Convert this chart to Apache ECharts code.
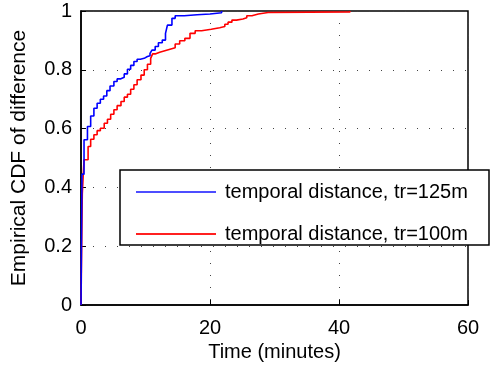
<!DOCTYPE html>
<html>
<head>
<meta charset="utf-8">
<script src="https://cdn.jsdelivr.net/npm/echarts@6/dist/echarts.min.js"></script>
<style>
  html, body { margin: 0; padding: 0; background: #fff; }
  #chart { width: 491px; height: 369px; }
</style>
</head>
<body>
<div id="chart"></div>
<script>
// empirical CDF, tr=125m (step x, value after step)
var blueX = [0, 0.15, 0.47, 1.0, 1.5, 2.0, 2.5, 3.0, 3.5, 4.0, 4.5, 5.1, 5.6, 6.1, 6.7, 7.2, 7.7, 8.2, 8.7, 9.2, 9.8, 10.3, 10.7, 11.0, 11.5, 12.0, 12.6, 13.1, 13.4, 14.1, 14.6, 16.0, 18.0, 20.0, 21.8];
var blueY = [0, 0.445, 0.562, 0.607, 0.643, 0.669, 0.686, 0.70, 0.711, 0.729, 0.745, 0.76, 0.769, 0.775, 0.786, 0.802, 0.815, 0.828, 0.836, 0.839, 0.845, 0.848, 0.856, 0.867, 0.879, 0.892, 0.901, 0.924, 0.952, 0.975, 0.984, 0.987, 0.99, 0.994, 1.0];

// empirical CDF, tr=100m
var redX = [0, 0.2, 0.47, 1.1, 1.5, 2.0, 2.5, 3.0, 3.6, 4.1, 4.6, 5.1, 5.6, 6.2, 6.7, 7.2, 7.7, 8.2, 8.7, 9.3, 9.8, 10.3, 10.8, 11.1, 11.5, 12.2, 13.0, 13.8, 14.6, 15.3, 16.1, 16.9, 17.7, 18.7, 20.2, 21.5, 22.3, 22.8, 23.4, 24.1, 25.1, 25.7, 26.5, 27.5, 29.0, 41.7];
var redY = [0, 0.378, 0.494, 0.539, 0.564, 0.579, 0.593, 0.601, 0.618, 0.632, 0.649, 0.664, 0.678, 0.692, 0.707, 0.717, 0.734, 0.749, 0.766, 0.782, 0.80, 0.819, 0.839, 0.854, 0.86, 0.865, 0.87, 0.875, 0.888, 0.899, 0.907, 0.924, 0.933, 0.938, 0.943, 0.947, 0.955, 0.962, 0.969, 0.973, 0.977, 0.984, 0.99, 0.995, 0.997, 1.0];

var seriesNames = ["temporal distance, tr=125m", "temporal distance, tr=100m"];
var xTicks = { min: 0, max: 60, interval: 20 };
var yTicks = { min: 0, max: 1, interval: 0.2 };

function pairs(xs, ys) {
  return xs.map(function (x, i) { return [x, ys[i]]; });
}

var font = "Liberation Sans";
var dotted = { color: "#444", width: 1, type: [1, 11] };
var noLine = { width: 0, opacity: 0 };

var myChart = echarts.init(document.getElementById("chart"));
var option = {
  animation: false,
  textStyle: { fontFamily: font },
  grid: {
    left: 81, right: 23, top: 11, bottom: 64,
    show: true,
    borderColor: "#000",
    borderWidth: 1.5
  },
  xAxis: {
    type: "value",
    min: xTicks.min, max: xTicks.max, interval: xTicks.interval,
    name: "Time (minutes)",
    nameLocation: "middle",
    nameGap: 36,
    nameTextStyle: { fontSize: 20, color: "#000", fontFamily: font },
    axisLine: { show: true, lineStyle: { color: "#000", width: 1.5 } },
    axisTick: { show: true, inside: true, length: 5, lineStyle: { color: "#000" } },
    axisLabel: { fontSize: 20, color: "#000", margin: 13, fontFamily: font },
    splitLine: { show: true, lineStyle: dotted }
  },
  yAxis: {
    type: "value",
    min: yTicks.min, max: yTicks.max, interval: yTicks.interval,
    name: "Empirical CDF of difference",
    nameLocation: "middle",
    nameGap: 51,
    nameRotate: 90,
    nameTextStyle: { fontSize: 21, color: "#000", fontFamily: font },
    axisLine: { show: true, lineStyle: { color: "#000", width: 1.5 } },
    axisTick: { show: true, inside: true, length: 5, lineStyle: { color: "#000" } },
    axisLabel: { fontSize: 20, color: "#000", margin: 9, fontFamily: font },
    splitLine: { show: true, lineStyle: dotted }
  },
  graphic: [{
    type: "rect",
    z: 5,
    shape: { x: 120, y: 170, width: 369, height: 75 },
    style: { fill: "#fff", stroke: "#000", lineWidth: 1.5 }
  }],
  legend: {
    z: 6,
    orient: "vertical",
    left: 136,
    top: 181,
    padding: 0,
    itemGap: 20,
    itemWidth: 80,
    itemHeight: 2,
    icon: "rect",
    itemStyle: { borderWidth: 0 },
    lineStyle: noLine,
    textStyle: { fontSize: 20, color: "#000", lineHeight: 22, fontFamily: font, padding: [0, 0, 0, 4] },
    data: [
      { name: seriesNames[0], itemStyle: { color: "#4d4dff", borderWidth: 0 }, lineStyle: noLine },
      { name: seriesNames[1], itemStyle: { color: "#ff2020", borderWidth: 0 }, lineStyle: noLine }
    ]
  },
  series: [
    {
      name: seriesNames[0],
      type: "line",
      step: "end",
      symbol: "none",
      lineStyle: { color: "#0000ff", width: 1.6 },
      itemStyle: { color: "#0000ff" },
      data: pairs(blueX, blueY),
      z: 3
    },
    {
      name: seriesNames[1],
      type: "line",
      step: "end",
      symbol: "none",
      lineStyle: { color: "#ff0000", width: 1.6 },
      itemStyle: { color: "#ff0000" },
      data: pairs(redX, redY),
      z: 2
    }
  ]
};
myChart.setOption(option);
</script>
</body>
</html>
